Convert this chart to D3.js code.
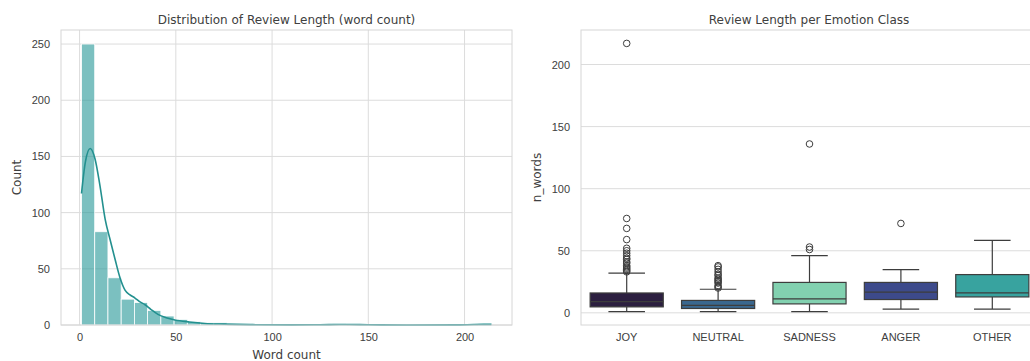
<!DOCTYPE html>
<html>
<head>
<meta charset="utf-8">
<script src="https://cdn.jsdelivr.net/npm/d3@7"></script>
<style>
    body { margin: 0; background: #fff; }
    svg { display: block; font-family: "DejaVu Sans", sans-serif; }
    .title { font-size: 12px; fill: #404040; }
    .axis-label { font-size: 12px; fill: #404040; }
    .axis text { font-size: 11px; fill: #404040; }
    .axis path, .axis line { display: none; }
    .grid line { stroke: #dcdcdc; stroke-width: 1; }
    .frame { fill: none; stroke: #d6d6d6; stroke-width: 1; }
</style>
</head>
<body>
<div id="chart"></div>
<script>
// histogram of word counts
const histStart = 1;
const histEnd = 214;
const histCounts = [250, 83, 42, 23, 20, 13, 8, 5, 3, 2, 2, 0, 0, 0, 0, 0, 0, 0, 0, 1, 0, 0, 0, 0, 0, 0, 0, 0, 0, 0, 1];
const kdeX = [1, 3, 5.5, 8, 10.5, 13.3, 16, 18.5, 21, 23.6, 26, 28.8, 31, 34, 37, 40.7, 45, 49.5, 57, 65, 75, 90, 110, 125, 135, 140, 150, 170, 195, 205, 214];
const kdeY = [117, 145, 157, 148, 125, 94, 75, 58, 42, 31, 27, 24, 21, 18, 14, 9.5, 6.5, 4.5, 2.7, 1.4, 0.8, 0.3, 0.1, 0.2, 0.5, 0.5, 0.2, 0.05, 0.1, 0.4, 0.6];
const histXTicks = [0, 50, 100, 150, 200];
const histYTicks = [0, 50, 100, 150, 200, 250];

// box plot per emotion class
const emotions = ['JOY', 'NEUTRAL', 'SADNESS', 'ANGER', 'OTHER'];
const boxColors = ['#2c1f40', '#3a678e', '#82d1b0', '#3d4a8b', '#38a39f'];
const whiskerLo = [1, 1, 1, 3, 3];
const q1 = [4.8, 3.5, 7.2, 10.7, 12.8];
const median = [9, 6, 11.2, 16.6, 16];
const q3 = [16, 10, 24.5, 24.5, 30.8];
const whiskerHi = [32, 19, 46, 34.8, 58.3];
const outliers = [
    [33, 34, 35, 36, 37, 38, 40, 41, 43, 44, 46, 48, 50, 52, 59, 68, 76, 217],
    [20, 21, 22, 24, 25, 26, 27, 28, 30, 31, 33, 35, 37, 38],
    [51, 53, 136],
    [72],
    []
];
const boxYTicks = [0, 50, 100, 150, 200];

const svg = d3.select('#chart').append('svg')
    .attr('width', 1030)
    .attr('height', 361);

function padDomain(lo, hi) {
    const m = (hi - lo) * 0.05;
    return [lo - m, hi + m];
}

// ---- left: histogram + kde ----
{
    const left = 61, top = 30, width = 451, height = 295;
    const g = svg.append('g').attr('transform', `translate(${left}, ${top})`);

    const x = d3.scaleLinear().domain(padDomain(histStart, histEnd)).range([0, width]);
    const y = d3.scaleLinear().domain([0, 262.5]).range([height, 0]);

    g.append('g').attr('class', 'grid')
        .selectAll('line').data(histYTicks).join('line')
        .attr('x1', 0).attr('x2', width)
        .attr('y1', d => y(d)).attr('y2', d => y(d));
    g.append('g').attr('class', 'grid')
        .selectAll('line').data(histXTicks).join('line')
        .attr('y1', 0).attr('y2', height)
        .attr('x1', d => x(d)).attr('x2', d => x(d));

    const binW = (histEnd - histStart) / histCounts.length;
    g.append('g')
        .selectAll('rect').data(histCounts).join('rect')
        .attr('x', (d, i) => x(histStart + i * binW))
        .attr('width', x(histStart + binW) - x(histStart))
        .attr('y', d => y(d))
        .attr('height', d => y(0) - y(d))
        .attr('fill', '#2a9a9a')
        .attr('fill-opacity', 0.62)
        .attr('stroke', '#fff')
        .attr('stroke-width', 0.8);

    const line = d3.line()
        .x((d, i) => x(kdeX[i]))
        .y(d => y(d))
        .curve(d3.curveMonotoneX);
    g.append('path')
        .attr('d', line(kdeY))
        .attr('fill', 'none')
        .attr('stroke', '#23908f')
        .attr('stroke-width', 1.6);

    g.append('rect').attr('class', 'frame')
        .attr('width', width).attr('height', height);

    g.append('g').attr('class', 'axis')
        .attr('transform', `translate(0, ${height})`)
        .call(d3.axisBottom(x).tickValues(histXTicks).tickSize(0).tickPadding(8));
    g.append('g').attr('class', 'axis')
        .call(d3.axisLeft(y).tickValues(histYTicks).tickSize(0).tickPadding(11));

    svg.append('text').attr('class', 'title')
        .attr('x', left + width / 2).attr('y', 24)
        .attr('text-anchor', 'middle')
        .text('Distribution of Review Length (word count)');
    svg.append('text').attr('class', 'axis-label')
        .attr('x', left + width / 2).attr('y', 359)
        .attr('text-anchor', 'middle')
        .text('Word count');
    svg.append('text').attr('class', 'axis-label')
        .attr('transform', `translate(21, ${top + height / 2}) rotate(-90)`)
        .attr('text-anchor', 'middle')
        .text('Count');
}

// ---- right: box plot ----
{
    const left = 581, top = 30, width = 457, height = 295;
    const g = svg.append('g').attr('transform', `translate(${left}, ${top})`);

    const x = d3.scaleBand().domain(emotions).range([0, width]);
    const y = d3.scaleLinear().domain(padDomain(1, 217)).range([height, 0]);
    const bw = x.bandwidth() * 0.8;
    const cw = bw * 0.5;

    g.append('g').attr('class', 'grid')
        .selectAll('line').data(boxYTicks).join('line')
        .attr('x1', 0).attr('x2', width)
        .attr('y1', d => y(d)).attr('y2', d => y(d));

    const boxes = g.selectAll('.box').data(emotions).join('g')
        .attr('class', 'box')
        .attr('transform', d => `translate(${x(d) + x.bandwidth() / 2}, 0)`);

    const stroke = '#3d3d3d';
    boxes.append('line')
        .attr('y1', (d, i) => y(whiskerLo[i])).attr('y2', (d, i) => y(q1[i]))
        .attr('stroke', stroke).attr('stroke-width', 1.2);
    boxes.append('line')
        .attr('y1', (d, i) => y(q3[i])).attr('y2', (d, i) => y(whiskerHi[i]))
        .attr('stroke', stroke).attr('stroke-width', 1.2);
    boxes.append('line')
        .attr('x1', -cw / 2).attr('x2', cw / 2)
        .attr('y1', (d, i) => y(whiskerLo[i])).attr('y2', (d, i) => y(whiskerLo[i]))
        .attr('stroke', stroke).attr('stroke-width', 1.2);
    boxes.append('line')
        .attr('x1', -cw / 2).attr('x2', cw / 2)
        .attr('y1', (d, i) => y(whiskerHi[i])).attr('y2', (d, i) => y(whiskerHi[i]))
        .attr('stroke', stroke).attr('stroke-width', 1.2);
    boxes.append('rect')
        .attr('x', -bw / 2).attr('width', bw)
        .attr('y', (d, i) => y(q3[i]))
        .attr('height', (d, i) => y(q1[i]) - y(q3[i]))
        .attr('fill', (d, i) => boxColors[i])
        .attr('stroke', stroke).attr('stroke-width', 1.2);
    boxes.append('line')
        .attr('x1', -bw / 2).attr('x2', bw / 2)
        .attr('y1', (d, i) => y(median[i])).attr('y2', (d, i) => y(median[i]))
        .attr('stroke', stroke).attr('stroke-width', 1.2);
    boxes.selectAll('circle').data((d, i) => outliers[i]).join('circle')
        .attr('cy', d => y(d))
        .attr('r', 3.3)
        .attr('fill', 'none')
        .attr('stroke', stroke).attr('stroke-width', 1);

    g.append('rect').attr('class', 'frame')
        .attr('width', width).attr('height', height);

    g.append('g').attr('class', 'axis')
        .attr('transform', `translate(0, ${height})`)
        .call(d3.axisBottom(x).tickSize(0).tickPadding(8));
    g.append('g').attr('class', 'axis')
        .call(d3.axisLeft(y).tickValues(boxYTicks).tickSize(0).tickPadding(11));

    svg.append('text').attr('class', 'title')
        .attr('x', 809).attr('y', 24)
        .attr('text-anchor', 'middle')
        .text('Review Length per Emotion Class');
    svg.append('text').attr('class', 'axis-label')
        .attr('transform', `translate(541, ${top + height / 2}) rotate(-90)`)
        .attr('text-anchor', 'middle')
        .text('n_words');
}
</script>
</body>
</html>
